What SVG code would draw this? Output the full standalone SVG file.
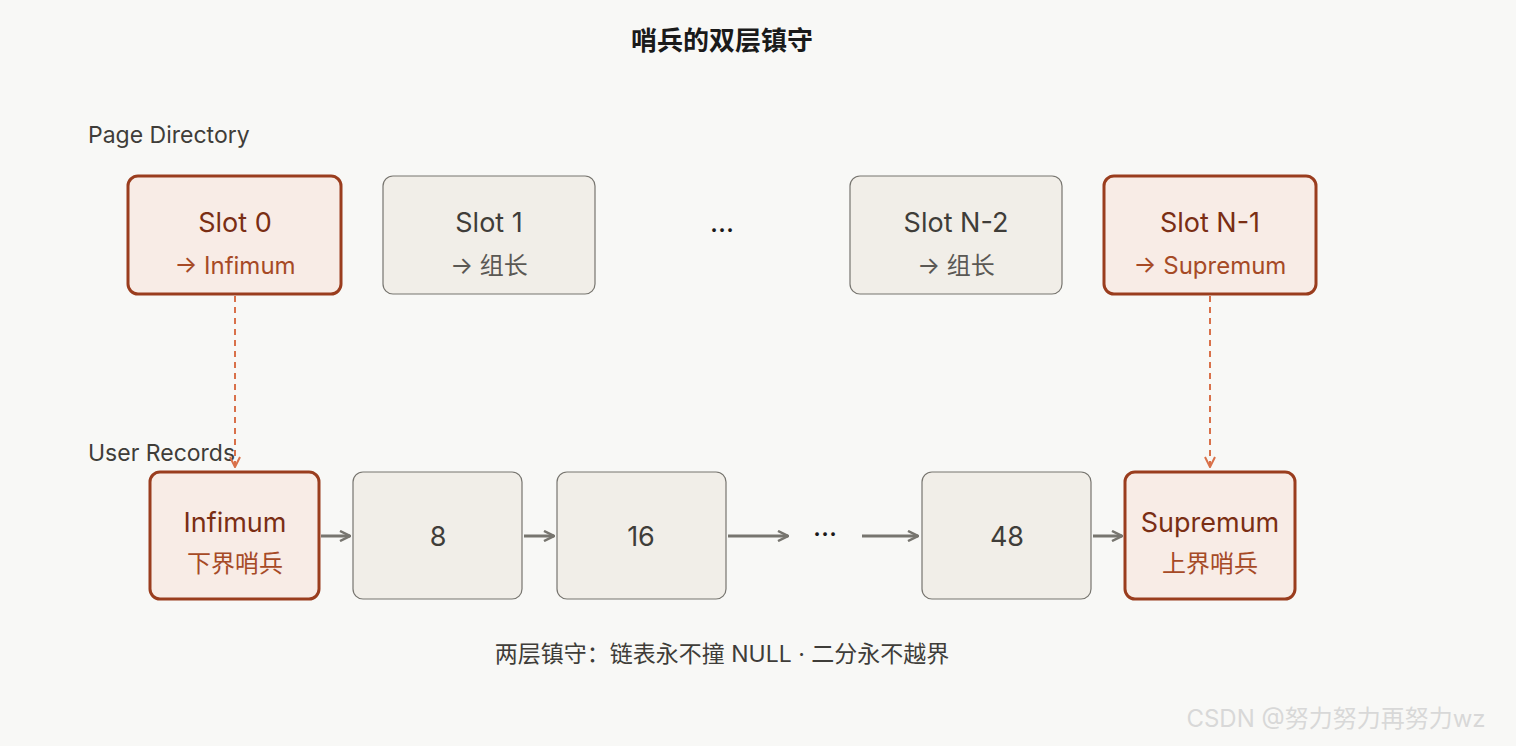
<svg xmlns="http://www.w3.org/2000/svg" width="1516" height="746" viewBox="0 0 1516 746">
<style>
text{font-family:Inter,"Noto Sans","Noto Sans CJK SC",sans-serif;text-anchor:middle}
.hot{fill:#f8ece6;stroke:#9a3d1e;stroke-width:3}
.cold{fill:#f1eee8;stroke:#77756f;stroke-width:1.2}
.ht{fill:#7a2e14;font-size:27px}
.hs{fill:#a64a26;font-size:24px}
.ct{fill:#3f3d39;font-size:27px}
.cs{fill:#5a5854;font-size:24px}
.lbl{fill:#3f3d39;font-size:23px;text-anchor:start}
.a{stroke:#77756f;stroke-width:3;fill:none;marker-end:url(#ga)}
.d{stroke:#d9714a;stroke-width:2;stroke-dasharray:6 5;fill:none;marker-end:url(#oa)}
</style>
<defs>
<marker id="ga" viewBox="0 0 12 12" refX="11" refY="6" markerWidth="12" markerHeight="12" markerUnits="userSpaceOnUse" orient="auto"><path d="M1 1L11 6L1 11" fill="none" stroke="#77756f" stroke-width="2.5"/></marker>
<marker id="oa" viewBox="0 0 12 12" refX="11" refY="6" markerWidth="12" markerHeight="12" markerUnits="userSpaceOnUse" orient="auto"><path d="M1 1L11 6L1 11" fill="none" stroke="#d9714a" stroke-width="2"/></marker>
</defs>
<rect width="1516" height="746" fill="#f8f8f6"/>
<text x="722" y="50" style="font-size:26px;font-weight:bold;fill:#1a1a1a">哨兵的双层镇守</text>
<text class="lbl" x="88" y="143">Page Directory</text>
<text class="lbl" x="88" y="461">User Records</text>
<g id="connectors">
<path class="d" d="M235 296V467"/>
<path class="d" d="M1210 296V467"/>
<path class="a" d="M321 536H350"/>
<path class="a" d="M524 536H554"/>
<path class="a" d="M728 536H788"/>
<path class="a" d="M862 536H918"/>
<path class="a" d="M1093 536H1122"/>
</g>
<g id="slot0"><rect class="hot" x="128" y="176" width="213" height="118" rx="10"/><text class="ht" x="235" y="232">Slot 0</text><text class="hs" x="235" y="274">→ Infimum</text></g>
<g id="slot1"><rect class="cold" x="383" y="176" width="212" height="118" rx="10"/><text class="ct" x="489" y="232">Slot 1</text><text class="cs" x="489" y="274">→ 组长</text></g>
<text x="722" y="240" style="font-size:28px;fill:#1a1a1a">···</text>
<g id="slotN2"><rect class="cold" x="850" y="176" width="212" height="118" rx="10"/><text class="ct" x="956" y="232">Slot N-2</text><text class="cs" x="956" y="274">→ 组长</text></g>
<g id="slotN1"><rect class="hot" x="1104" y="176" width="212" height="118" rx="10"/><text class="ht" x="1210" y="232">Slot N-1</text><text class="hs" x="1210" y="274">→ Supremum</text></g>
<g id="infimum"><rect class="hot" x="150" y="472" width="169" height="127" rx="10"/><text class="ht" x="235" y="532">Infimum</text><text class="hs" x="235" y="572">下界哨兵</text></g>
<g id="r8"><rect class="cold" x="353" y="472" width="169" height="127" rx="10"/><text class="ct" x="438" y="546">8</text></g>
<g id="r16"><rect class="cold" x="557" y="472" width="169" height="127" rx="10"/><text class="ct" x="641" y="546">16</text></g>
<text x="825" y="544" style="font-size:28px;fill:#1a1a1a">···</text>
<g id="r48"><rect class="cold" x="922" y="472" width="169" height="127" rx="10"/><text class="ct" x="1007" y="546">48</text></g>
<g id="supremum"><rect class="hot" x="1125" y="472" width="170" height="127" rx="10"/><text class="ht" x="1210" y="532">Supremum</text><text class="hs" x="1210" y="572">上界哨兵</text></g>
<text x="722" y="662" style="font-size:23px;fill:#3f3d39">两层镇守：链表永不撞 NULL · 二分永不越界</text>
<text x="1336" y="727" style="font-size:24px;fill:#d8d8d8">CSDN @努力努力再努力wz</text>
</svg>
